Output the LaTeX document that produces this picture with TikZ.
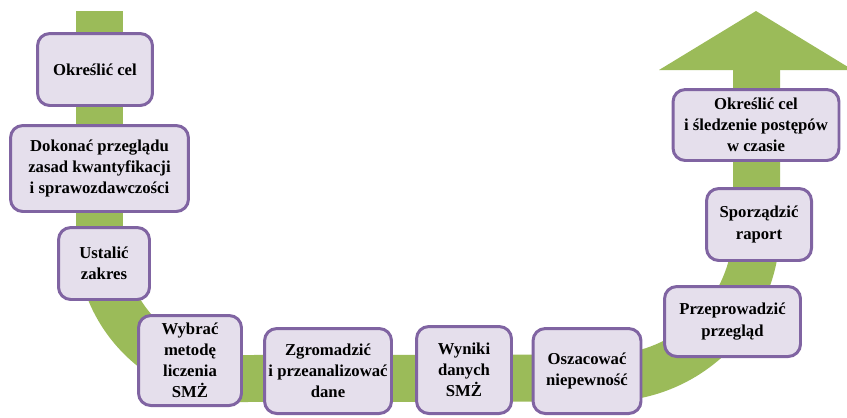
\documentclass[tikz,border=0pt]{standalone}
\usepackage{fontspec}
\setmainfont{Liberation Serif}
\usepackage{tikz}
\definecolor{bandgreen}{RGB}{155, 187, 89}
\definecolor{boxfill}{RGB}{229, 223, 236}
\definecolor{boxline}{RGB}{128, 100, 162}

\tikzset{
  stepbox/.style={draw=boxline, fill=boxfill, line width=1.7pt, rounded corners=7pt,
    align=center, inner sep=2pt, font=\fontsize{9.5}{12}\selectfont\bfseries},
}

\begin{document}
\begin{tikzpicture}[x=0.02cm, y=-0.02cm]
    \useasboundingbox (0,0) rectangle (847,417);
    % green band with arrow
    \draw[bandgreen, line width=0.94cm] (99.5,11) -- (99.5,238)
      arc[start angle=180, end angle=90, radius=140.5] -- (606,378)
      arc[start angle=90, end angle=0, radius=150.5] -- (756.5,69);
    \fill[bandgreen] (659,70) -- (756,11) -- (847,66.4) -- (847,70) -- cycle;
    % steps
    \node[stepbox, minimum width=2.30cm, minimum height=1.44cm] (cel) at (95,69.5) {Określić cel};
    \node[stepbox, minimum width=3.56cm, minimum height=1.72cm] (zasady) at (99.5,168.5) {Dokonać przeglądu\\zasad kwantyfikacji\\i sprawozdawczości};
    \node[stepbox, minimum width=1.82cm, minimum height=1.44cm] (zakres) at (104,263.5) {Ustalić\\zakres};
    \node[stepbox, minimum width=2.06cm, minimum height=1.80cm] (metoda) at (190,360.5) {Wybrać\\metodę\\liczenia\\SMŻ};
    \node[stepbox, minimum width=2.54cm, minimum height=1.70cm] (dane) at (328,371) {Zgromadzić\\i przeanalizować\\dane};
    \node[stepbox, minimum width=1.90cm, minimum height=1.74cm] (wyniki) at (464,370) {Wyniki\\danych\\SMŻ};
    \node[stepbox, minimum width=2.16cm, minimum height=1.70cm] (niepewnosc) at (587,371) {Oszacować\\niepewność};
    \node[stepbox, minimum width=2.72cm, minimum height=1.40cm] (przeglad) at (732.5,321.5) {Przeprowadzić\\przegląd};
    \node[stepbox, minimum width=2.10cm, minimum height=1.44cm] (raport) at (759,224.5) {Sporządzić\\raport};
    \node[stepbox, minimum width=3.32cm, minimum height=1.42cm] (postep) at (756,125) {Określić cel\\i śledzenie postępów\\w czasie};
\end{tikzpicture}
\end{document}
